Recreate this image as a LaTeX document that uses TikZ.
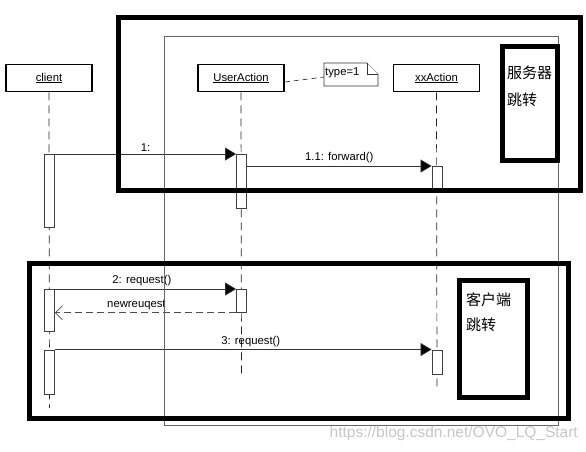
\documentclass[tikz,border=0pt]{standalone}
\usepackage{fontspec}
\setmainfont{Liberation Sans}
\newfontfamily\cjk{Noto Sans CJK SC}
\usetikzlibrary{arrows.meta}
\newcommand{\fsz}{\fontsize{11.3}{13}\selectfont}
\tikzset{
  head/.style={draw, line width=1.6pt, minimum width=86pt, minimum height=27pt, inner sep=0pt, font=\fsz},
  act/.style={draw=black!75, line width=0.8pt, fill=white, minimum width=10pt, inner sep=0pt},
  msg/.style={draw=black!80, line width=0.7pt, -{Triangle[length=11pt,width=13pt,fill=black]}},
  ret/.style={draw=black!70, line width=0.7pt, dash pattern=on 7pt off 4pt, -{Straight Barb[length=7pt,width=14pt]}},
  life/.style={draw=black!85, line width=0.7pt, dash pattern=on 8pt off 5pt},
  lbl/.style={font=\fsz, inner sep=1.5pt},
  fat/.style={line width=5pt},
  cjklbl/.style={font=\cjk\fontsize{15}{17}\selectfont, inner sep=0pt, anchor=west},
  note/.style={draw=black!80, line width=0.7pt, fill=white}
}
\begin{document}
\begin{tikzpicture}[x=1pt,y=-1pt]
\useasboundingbox (0,0) rectangle (586,451);
% lifeline heads
\node[head] (client) at (49,78) {\underline{client}};
\node[head] (ua) at (241,78) {\underline{UserAction}};
\node[head] (xa) at (436.5,78) {\underline{xxAction}};
% lifeline ends
\coordinate (cend) at (49.5,408);
\coordinate (uend) at (241.5,378);
\coordinate (xend) at (437,390);
\draw[life] (client.south) -- (cend);
\draw[life] (ua.south) -- (uend);
\draw[life] (xa.south) -- (xend);
% note
\draw[note] (324,63) -- (367,63) -- (378,74) -- (378,86) -- (324,86) -- cycle;
\draw[note] (367,63) -- (367,74) -- (378,74);
\node[font=\fsz, inner sep=0pt, anchor=west] (type) at (325,73) {type=1};
\coordinate (notel) at (324,77);
\draw[black!80, line width=0.7pt, dash pattern=on 5pt off 4pt] (ua.east |- 0,82) -- (notel);
% activations
\node[act, minimum height=73pt, anchor=north] (c1) at (49.5,154) {};
\node[act, minimum height=42pt, anchor=north] (c2) at (49.5,289) {};
\node[act, minimum height=44pt, anchor=north] (c3) at (49.5,349.5) {};
\node[act, minimum height=54pt, anchor=north] (u1) at (241.5,154) {};
\node[act, minimum height=23pt, anchor=north] (u2) at (241.5,289) {};
\node[act, minimum height=24pt, anchor=north] (x1) at (437,166) {};
\node[act, minimum height=24pt, anchor=north] (x2) at (437,349.5) {};
% messages
\draw[msg] (c1.north east) -- (u1.north west) node[lbl, midway, above=1pt] (m1) {1:};
\draw[msg] (u1.east |- x1.north) -- (x1.north west) node[lbl, midway, above=1pt] (m11) {1.1: forward()};
\draw[msg] (c2.north east) -- (u2.north west) node[lbl, pos=0.48, above=1pt] (m2) {2: request()};
\draw[ret] (u2.south west) -- (c2.east |- u2.south) node[lbl, pos=0.55, above=1pt] (mr) {newreuqest};
\draw[msg] (c3.north east) -- (x2.north west) node[lbl, pos=0.52, above=1pt] (m3) {3: request()};
% thin frame
\draw[black!60, line width=0.9pt] (164.5,36) rectangle (558.5,425);
% server box
\draw[fat] (118,17.5) rectangle (580,190);
\draw[fat, fill=white] (502,46) rectangle (557.5,160);
\node[cjklbl] (s1) at (507,72.5) {服务器};
\node[cjklbl] (s2) at (507,99.5) {跳转};
% client box
\draw[fat] (29.5,263.5) rectangle (568,418);
\draw[fat, fill=white] (459,280) rectangle (527,397);
\node[cjklbl] (k1) at (466,299.5) {客户端};
\node[cjklbl] (k2) at (466,324.5) {跳转};
% watermark
\node[text=black!22, font=\fontsize{15.5}{17}\selectfont, inner sep=0pt, anchor=east] (wm) at (578,433) {https://blog.csdn.net/OVO\_LQ\_Start};
\end{tikzpicture}
\end{document}
